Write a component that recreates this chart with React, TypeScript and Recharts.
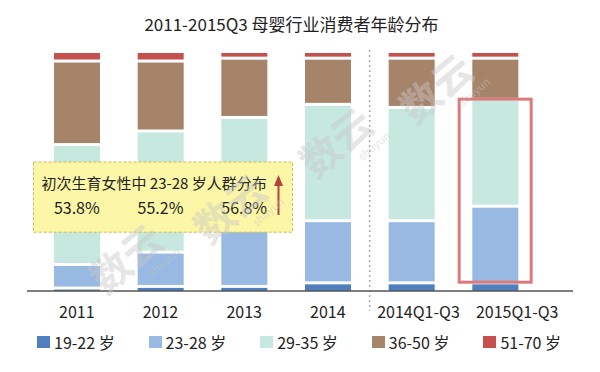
import React from 'react';
import {Bar, BarChart, Legend, ReferenceArea, ReferenceDot, ReferenceLine, XAxis, YAxis} from 'recharts';

const FONT = '"Noto Sans CJK SC", "Noto Sans", sans-serif';

// 年龄段占比（%），按年份
const categories = ['2011', '2012', '2013', '2014', '2014Q1-Q3', '2015Q1-Q3'];
const age19to22 = [0.6, 1.3, 1.3, 2.8, 2.8, 2.8];
const age23to28 = [9.9, 14.4, 23.7, 26.1, 26.1, 32.2];
const age29to35 = [50.4, 50.9, 47.3, 48.9, 47.6, 44.9];
const age36to50 = [35.1, 29.4, 24.9, 19.4, 20.7, 17.3];
const age51to70 = [4.0, 4.0, 2.8, 2.8, 2.8, 2.8];

const seriesNames = ['19-22 岁', '23-28 岁', '29-35 岁', '36-50 岁', '51-70 岁'];
const seriesColors = ['#4f80bd', '#97b9e2', '#c6e8de', '#a6846a', '#c5504e'];

// 初次生育女性中 23-28 岁人群分布
const noteYears = ['2011', '2012', '2013'];
const noteShares = ['53.8%', '55.2%', '56.8%'];

// 长标签稍微右移
const labelShift: Record<string, number> = {'2014Q1-Q3': 7, '2015Q1-Q3': 22};

// 水印位置
const watermarks = [[136, 270], [240, 220], [346, 154], [446, 100]];

const series = [age19to22, age23to28, age29to35, age36to50, age51to70];
const data = categories.map((year, i) => {
  const row: any = {year};
  series.forEach((s, k) => {
    row['s' + k] = s[i];
  });
  return row;
});

function Segment(props: any) {
  const {x, y, width, height, fill, gap} = props;
  const h = Math.max(height - gap, 0);
  return <rect x={x} y={y} width={width} height={h} fill={fill} />;
}

function Tick(props: any) {
  const {x, y, payload} = props;
  return (
    <text x={x + (labelShift[payload.value] || 0)} y={y + 27} textAnchor="middle" fontSize={16} fill="#222" fontFamily={FONT}>
      {payload.value}
    </text>
  );
}

function Divider(props: any) {
  const {x1, y1, x2, y2} = props;
  return (
    <line x1={x1} x2={x2} y1={Math.min(y1, y2) - 3} y2={Math.max(y1, y2) + 20}
      stroke="#aaa" strokeWidth={1.5} strokeDasharray="2 3" />
  );
}

function HighlightBox(props: any) {
  const {x, y, width, height} = props;
  const cx = x + width / 2;
  return <rect x={cx - 36} y={y} width={72} height={height} fill="none" stroke="#db7a7b" strokeWidth={3} />;
}

function NoteBox(props: any) {
  const {x, y, width, height} = props;
  const cx = x + width / 2;
  const left = cx - 127;
  const right = cx + 132;
  const ax = right - 14;
  return (
    <g>
      <rect x={left} y={y} width={right - left} height={height} fill="#fcf6a7" stroke="#cdbd55" strokeDasharray="3 2" />
      <text x={left + 8} y={y + 27} fontSize={15} fill="#222" fontFamily={FONT}>初次生育女性中 23-28 岁人群分布</text>
      <line x1={ax} x2={ax} y1={y + 22} y2={y + 53} stroke="#b8403c" strokeWidth={2} />
      <path d={`M${ax},${y + 13} L${ax - 4.5},${y + 24} L${ax + 4.5},${y + 24} Z`} fill="#b8403c" />
    </g>
  );
}

function LegendBox() {
  return (
    <div style={{height: 24, display: 'flex', alignItems: 'center', paddingLeft: 37, fontFamily: FONT}}>
      {seriesNames.map((name, i) => (
        <div key={name} style={{width: 111.6, display: 'flex', alignItems: 'center'}}>
          <span style={{width: 13, height: 12, background: seriesColors[i], marginRight: 4}} />
          <span style={{fontSize: 16, lineHeight: '24px', color: '#222'}}>{name}</span>
        </div>
      ))}
    </div>
  );
}

export default function App() {
  return (
    <div style={{position: 'absolute', left: 0, top: 0, width: 600, height: 372, background: '#fff', fontFamily: FONT}}>
      <div style={{position: 'absolute', left: 0, top: 12, width: 583, textAlign: 'center', fontSize: 17, lineHeight: '24px', color: '#222'}}>
        2011-2015Q3 母婴行业消费者年龄分布
      </div>
      <BarChart width={600} height={372} data={data} barSize={46}
        margin={{top: 53, right: 27, left: 27, bottom: 17}}>
        <XAxis dataKey="year" height={40} padding={{left: 8, right: 36}} interval={0}
          axisLine={{stroke: '#555', strokeWidth: 1.3}} tickLine={false} tickSize={0} tickMargin={0} tick={Tick} />
        <YAxis hide domain={[0, 100]} />
        <Legend verticalAlign="bottom" content={LegendBox}
          wrapperStyle={{left: 0, top: 330, width: 600, bottom: 'auto'}} />
        {series.map((_, k) => (
          <Bar key={k} dataKey={'s' + k} name={seriesNames[k]} stackId="a" fill={seriesColors[k]}
            isAnimationActive={false} shape={(p: any) => <Segment {...p} gap={k === 0 ? 0 : 3} />} />
        ))}
        <ReferenceLine x="2014" position="end" ifOverflow="visible" shape={Divider} />
        <ReferenceArea x1="2015Q1-Q3" x2="2015Q1-Q3" y1={3.7} y2={80.6} ifOverflow="visible"
          shape={HighlightBox} zIndex={1500} />
        <ReferenceArea x1="2011" x2="2013" y1={24.7} y2={54.2} ifOverflow="visible"
          shape={NoteBox} zIndex={1500} />
        {noteYears.map((c, i) => (
          <ReferenceDot key={c} x={c} y={34.6} r={0} zIndex={1600}
            label={{value: noteShares[i], position: 'center', fontSize: 16, fill: '#222'}} />
        ))}
      </BarChart>
      <svg width={600} height={372} style={{position: 'absolute', left: 0, top: 0, pointerEvents: 'none'}}>
        {watermarks.map(([wx, wy]) => (
          <g key={wx} transform={`translate(${wx},${wy}) rotate(-40)`} fill="#c8c8c8" opacity={0.45} fontFamily={FONT}>
            <text textAnchor="middle" fontSize={40} fontWeight="bold">数云</text>
            <text x={8} y={16} fontSize={11}>shuyun</text>
          </g>
        ))}
      </svg>
    </div>
  );
}
